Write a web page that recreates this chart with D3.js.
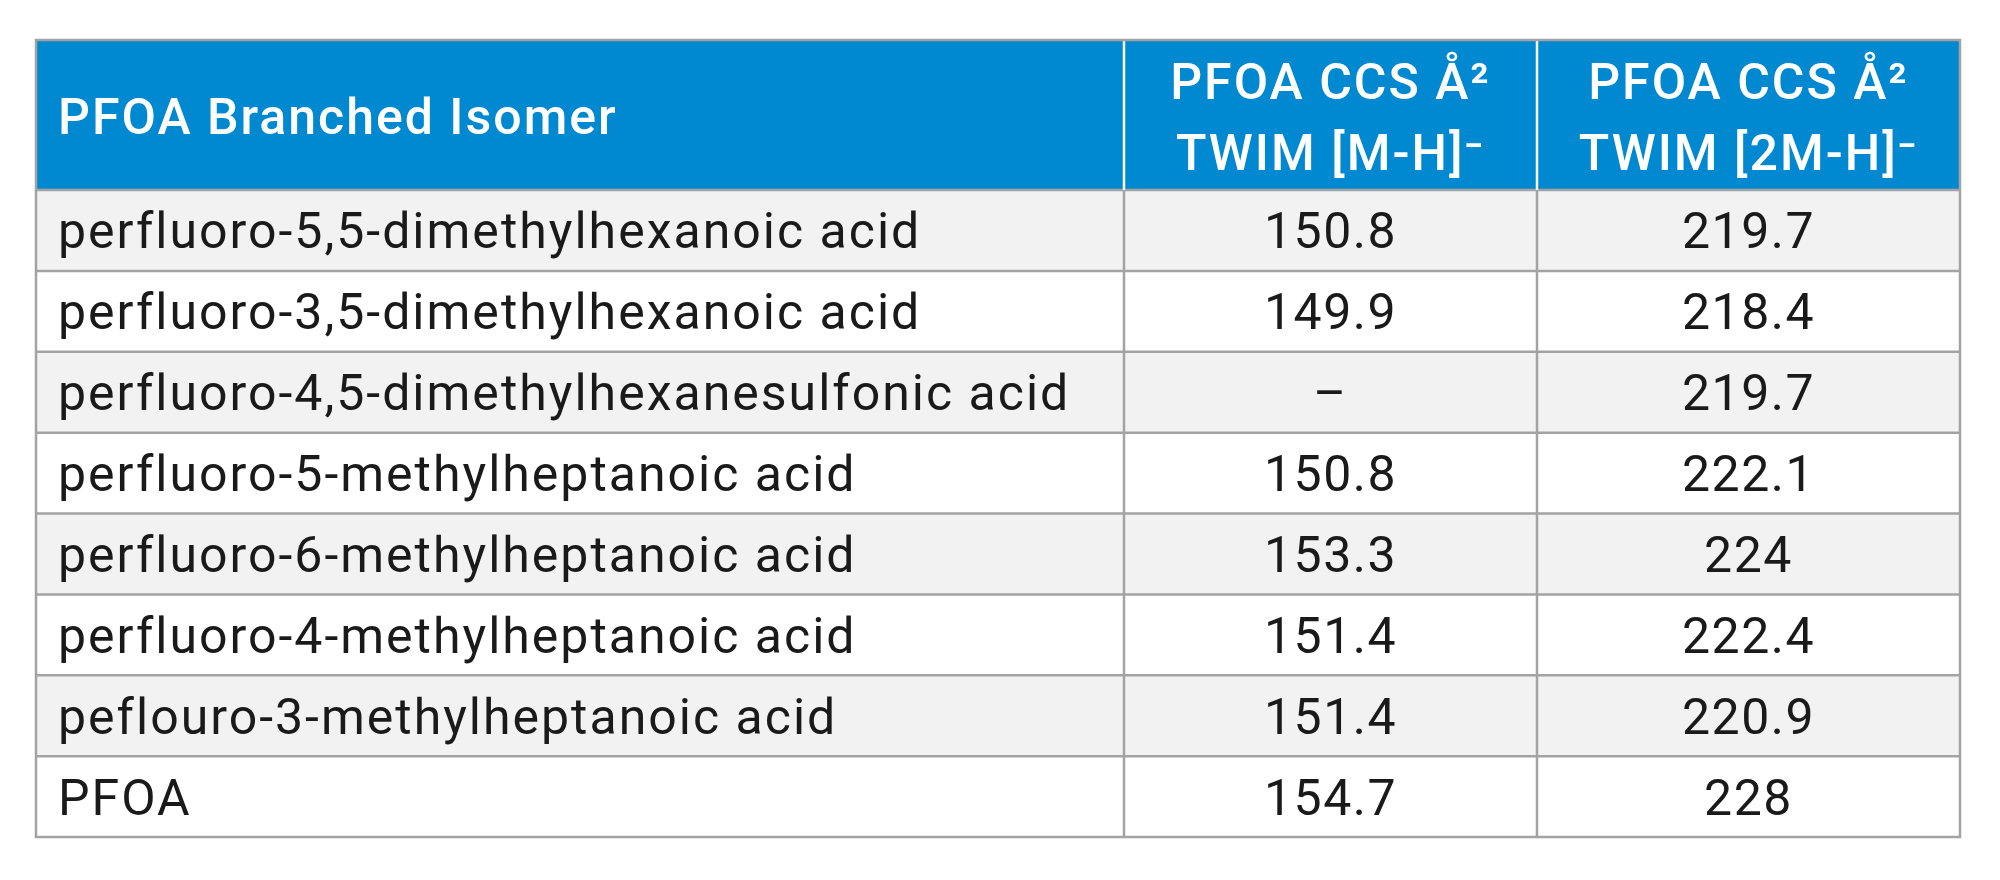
<!DOCTYPE html><html><head><meta charset="utf-8"><script src="https://cdn.jsdelivr.net/npm/d3@7"></script>
<style>body{margin:0;background:#fff}</style></head><body><svg id="c" width="2000" height="880"></svg><script>
const isomers=["perfluoro-5,5-dimethylhexanoic acid","perfluoro-3,5-dimethylhexanoic acid","perfluoro-4,5-dimethylhexanesulfonic acid","perfluoro-5-methylheptanoic acid","perfluoro-6-methylheptanoic acid","perfluoro-4-methylheptanoic acid","peflouro-3-methylheptanoic acid","PFOA"];
const ccsMH=["150.8","149.9","–","150.8","153.3","151.4","151.4","154.7"];
const ccs2MH=["219.7","218.4","219.7","222.1","224","222.4","220.9","228"];
const headers=[["PFOA Branched Isomer"],["PFOA CCS Å²","TWIM [M-H]⁻"],["PFOA CCS Å²","TWIM [2M-H]⁻"]];
const svg=d3.select("#c"),font="Roboto, 'Open Sans', sans-serif";
const L=36,R=1960,T=40,HB=190,B=837;
const colEdges=[L,1124,1537,R];
const y=d3.scaleBand().domain(d3.range(isomers.length)).range([HB,B]);
svg.append("rect").attr("x",L).attr("y",T).attr("width",R-L).attr("height",HB-T).attr("fill","#0089d0");
const rows=svg.selectAll("g.r").data(isomers).join("g");
rows.append("rect").attr("x",L).attr("y",(d,i)=>y(i)).attr("width",R-L).attr("height",y.bandwidth()).attr("fill",(d,i)=>i%2?"#fff":"#f2f2f3");
const cols=[isomers,ccsMH,ccs2MH];
cols.forEach((arr,c)=>{
 svg.selectAll(null).data(arr).join("text").attr("x",c==0?58:(colEdges[c]+colEdges[c+1])/2).attr("y",(d,i)=>y(i)+y.bandwidth()/2+18)
 .attr("text-anchor",c==0?"start":"middle").attr("font-family",font).attr("font-size",50).attr("letter-spacing",c==0?2:1.5).attr("fill","#1a1a1a").text(d=>d);
});
headers.forEach((h,c)=>{
 h.forEach((t,k)=>{
  svg.append("text").attr("x",c==0?58:(colEdges[c]+colEdges[c+1])/2).attr("y",c==0?134:99+k*71)
  .attr("text-anchor",c==0?"start":"middle").attr("font-family",font).attr("font-weight",500).attr("font-size",50).attr("letter-spacing",2).attr("fill","#fff").text(t);
 });
});
const g=svg.append("g").attr("stroke","#a3a3a3").attr("stroke-width",2.5);
[HB].concat(d3.range(1,isomers.length).map(i=>y(i))).forEach(v=>g.append("line").attr("x1",L).attr("x2",R).attr("y1",v).attr("y2",v));
colEdges.slice(1,3).forEach(v=>g.append("line").attr("x1",v).attr("x2",v).attr("y1",HB).attr("y2",B));
colEdges.slice(1,3).forEach(v=>svg.append("line").attr("x1",v).attr("x2",v).attr("y1",T).attr("y2",HB).attr("stroke","#fff").attr("stroke-width",2.5));
svg.append("rect").attr("x",L).attr("y",T).attr("width",R-L).attr("height",B-T).attr("fill","none").attr("stroke","#a3a3a3").attr("stroke-width",2.5);
</script></body></html>
